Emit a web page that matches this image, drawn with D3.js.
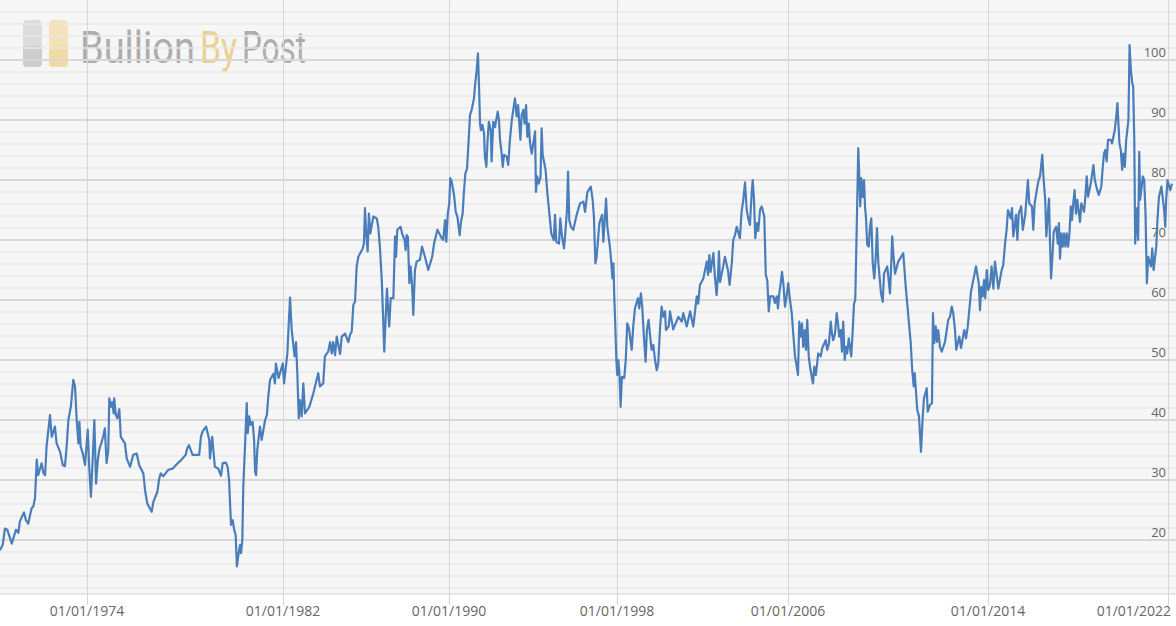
<!DOCTYPE html>
<html>
<head>
<meta charset="utf-8">
<script src="https://cdn.jsdelivr.net/npm/d3@7"></script>
<style>
  html, body { margin: 0; padding: 0; background: #fff; }
  svg { display: block; font-family: "Open Sans", sans-serif; }
</style>
</head>
<body>
<script>
// Chart size
const width = 1176;
const height = 626;
const plotBottom = 594;

// X axis labels: the dates are not evenly spaced on the axis
const tickLabels = ["01/01/1974", "01/01/1982", "01/01/1990", "01/01/1998", "01/01/2006", "01/01/2014", "01/01/2022"];
const tickYears = [1974, 1982, 1990, 1998, 2006, 2014, 2022];
const tickX = [87, 283, 449, 617, 788, 988, 1167.5];

// Y axis
const yTicks = [20, 30, 40, 50, 60, 70, 80, 90, 100];
const yMinor = d3.range(12, 110, 2).filter(v => v % 10 !== 0);

// Logo words
const logoWords = [
  {text: "Bullion", x: 80, w: 115, color: "#adadad"},
  {text: "By", x: 200, w: 37, color: "#ebd08f"},
  {text: "Post", x: 242, w: 64, color: "#adadad"}
];

// Gold / silver ratio: [decimal year, ratio]
const series = [
  [1970.45,18.3],[1970.56,19.2],[1970.65,21.9],[1970.75,21.7],[1970.93,19.4],[1971.10,21.7],[1971.20,21.2],[1971.26,23.1],
  [1971.43,24.6],[1971.51,23.3],[1971.60,22.7],[1971.74,25.3],[1971.81,25.6],[1971.88,27.0],[1971.95,33.4],[1972.01,30.8],
  [1972.15,32.8],[1972.22,31.2],[1972.29,30.8],[1972.35,35.6],[1972.49,40.8],[1972.56,37.2],[1972.69,38.9],[1972.76,36.1],
  [1972.90,34.7],[1973.01,32.5],[1973.10,32.3],[1973.17,35.6],[1973.24,40.0],[1973.34,42.2],[1973.44,46.7],[1973.51,45.6],
  [1973.58,40.0],[1973.65,36.1],[1973.69,39.7],[1973.74,35.6],[1973.83,34.4],[1973.92,32.5],[1974.03,38.4],[1974.09,32.2],
  [1974.16,27.2],[1974.23,33.3],[1974.30,40.0],[1974.37,29.4],[1974.44,33.3],[1974.50,35.0],[1974.66,37.2],[1974.73,38.6],
  [1974.80,32.8],[1974.87,35.0],[1974.91,43.6],[1974.98,42.2],[1975.03,43.0],[1975.09,41.1],[1975.11,43.6],[1975.18,40.8],
  [1975.24,40.3],[1975.32,41.8],[1975.38,37.2],[1975.55,36.1],[1975.62,33.6],[1975.76,32.2],[1975.89,34.2],[1976.03,34.4],
  [1976.13,32.5],[1976.30,31.1],[1976.37,28.3],[1976.46,26.1],[1976.64,24.7],[1976.71,26.4],[1976.87,28.0],[1976.95,30.3],
  [1977.01,31.1],[1977.11,30.6],[1977.32,31.7],[1977.50,31.9],[1977.73,32.9],[1977.86,33.4],[1978.03,34.2],[1978.09,35.3],
  [1978.16,35.8],[1978.31,34.2],[1978.58,34.2],[1978.65,37.2],[1978.72,38.1],[1978.86,38.9],[1978.99,36.7],[1979.02,33.6],
  [1979.11,37.2],[1979.22,32.2],[1979.36,31.9],[1979.47,30.7],[1979.54,32.8],[1979.67,32.9],[1979.74,32.2],[1979.80,30.0],
  [1979.84,26.1],[1979.88,22.5],[1979.95,23.3],[1980.00,21.9],[1980.07,20.8],[1980.12,15.6],[1980.19,17.8],[1980.25,19.2],
  [1980.29,17.8],[1980.34,20.0],[1980.38,28.9],[1980.45,35.6],[1980.52,42.8],[1980.56,37.8],[1980.62,40.6],[1980.68,39.2],
  [1980.76,39.7],[1980.82,36.7],[1980.86,31.4],[1980.90,30.8],[1980.95,35.0],[1981.06,38.9],[1981.13,36.7],[1981.27,40.0],
  [1981.34,40.8],[1981.40,43.9],[1981.47,46.7],[1981.61,47.7],[1981.67,46.1],[1981.71,49.4],[1981.82,47.0],[1981.99,49.4],
  [1982.05,46.1],[1982.21,51.1],[1982.27,55.6],[1982.34,60.4],[1982.42,55.0],[1982.56,50.6],[1982.63,53.0],[1982.69,47.8],
  [1982.76,40.3],[1982.82,43.3],[1982.90,40.6],[1982.98,46.1],[1983.06,41.1],[1983.27,42.2],[1983.46,44.4],[1983.70,47.8],
  [1983.78,45.6],[1983.94,46.1],[1984.02,50.6],[1984.18,51.4],[1984.27,53.0],[1984.35,51.1],[1984.42,53.0],[1984.51,50.8],
  [1984.59,53.9],[1984.75,51.0],[1984.83,53.9],[1984.99,54.4],[1985.15,53.0],[1985.23,54.2],[1985.31,54.7],[1985.39,59.2],
  [1985.47,59.7],[1985.55,65.6],[1985.63,67.2],[1985.84,68.6],[1985.90,69.4],[1985.95,75.3],[1986.01,71.1],[1986.08,68.1],
  [1986.14,74.4],[1986.21,71.1],[1986.35,73.9],[1986.52,73.6],[1986.59,72.2],[1986.67,68.9],[1986.76,63.3],[1986.83,56.7],
  [1986.88,51.4],[1986.95,57.2],[1987.01,61.9],[1987.07,58.3],[1987.12,55.6],[1987.19,60.3],[1987.32,60.3],[1987.40,70.6],
  [1987.45,67.2],[1987.51,71.7],[1987.67,72.2],[1987.74,71.1],[1987.86,70.0],[1987.91,68.3],[1987.96,70.8],[1988.02,70.5],
  [1988.09,62.8],[1988.15,65.6],[1988.22,62.5],[1988.28,57.5],[1988.36,65.0],[1988.44,66.4],[1988.60,66.7],[1988.70,68.9],
  [1988.84,67.2],[1989.00,65.0],[1989.19,67.2],[1989.28,69.4],[1989.44,71.7],[1989.65,70.3],[1989.72,70.0],[1989.81,73.3],
  [1989.87,69.7],[1989.94,74.4],[1990.01,76.0],[1990.06,80.3],[1990.13,79.7],[1990.25,77.2],[1990.32,74.7],[1990.40,73.9],
  [1990.51,70.8],[1990.57,73.0],[1990.65,74.4],[1990.71,78.0],[1990.78,81.1],[1990.86,81.9],[1990.92,85.6],[1991.00,90.8],
  [1991.08,91.7],[1991.19,93.6],[1991.25,96.1],[1991.32,98.3],[1991.38,101.1],[1991.43,95.6],[1991.48,89.4],[1991.52,88.3],
  [1991.59,89.2],[1991.67,87.8],[1991.71,83.9],[1991.78,82.2],[1991.84,86.7],[1991.90,89.7],[1991.99,88.3],[1992.03,83.1],
  [1992.11,89.7],[1992.19,88.8],[1992.32,91.4],[1992.38,90.0],[1992.43,86.7],[1992.49,85.0],[1992.56,82.2],[1992.62,84.2],
  [1992.75,83.9],[1992.82,82.5],[1992.90,86.7],[1992.99,90.0],[1993.14,93.6],[1993.22,90.6],[1993.29,92.5],[1993.40,86.7],
  [1993.46,90.8],[1993.54,91.7],[1993.60,89.4],[1993.67,92.5],[1993.73,87.2],[1993.80,89.4],[1993.86,86.1],[1993.94,84.4],
  [1994.10,88.1],[1994.14,78.0],[1994.20,80.6],[1994.27,79.4],[1994.36,80.5],[1994.41,88.6],[1994.46,84.2],[1994.60,81.7],
  [1994.68,78.0],[1994.81,73.3],[1994.87,71.1],[1994.99,70.0],[1995.05,74.2],[1995.11,69.7],[1995.24,69.4],[1995.30,73.6],
  [1995.38,70.6],[1995.48,68.6],[1995.56,72.2],[1995.62,75.0],[1995.67,81.4],[1995.73,73.3],[1995.81,72.2],[1995.92,71.7],
  [1996.08,74.2],[1996.24,76.1],[1996.40,76.4],[1996.48,74.7],[1996.59,78.0],[1996.75,78.9],[1996.84,76.7],[1996.90,73.9],
  [1996.97,66.1],[1997.03,67.2],[1997.16,72.8],[1997.29,74.2],[1997.35,69.7],[1997.48,76.9],[1997.54,72.2],[1997.67,68.6],
  [1997.73,66.1],[1997.78,63.6],[1997.83,66.1],[1997.87,60.6],[1997.92,55.6],[1997.97,50.0],[1998.01,47.5],[1998.06,50.0],
  [1998.11,48.0],[1998.17,42.2],[1998.23,47.2],[1998.34,47.0],[1998.41,50.0],[1998.48,56.1],[1998.56,55.3],[1998.69,51.7],
  [1998.76,55.6],[1998.84,58.6],[1998.98,60.3],[1999.04,58.6],[1999.12,61.1],[1999.18,58.9],[1999.26,53.9],[1999.34,49.7],
  [1999.40,55.0],[1999.48,56.7],[1999.54,54.4],[1999.62,51.7],[1999.70,52.5],[1999.78,50.0],[1999.86,48.3],[1999.93,49.4],
  [2000.01,55.0],[2000.09,58.9],[2000.17,57.2],[2000.25,58.1],[2000.29,55.0],[2000.42,55.6],[2000.48,58.1],[2000.63,55.1],
  [2000.87,57.2],[2001.03,56.4],[2001.10,57.8],[2001.26,55.6],[2001.42,58.1],[2001.57,55.6],[2001.73,60.6],[2001.80,59.4],
  [2001.88,62.5],[2002.04,63.6],[2002.20,66.4],[2002.26,64.2],[2002.32,67.5],[2002.38,64.7],[2002.51,67.8],[2002.58,63.9],
  [2002.66,60.8],[2002.73,64.4],[2002.77,68.1],[2002.82,63.0],[2002.90,64.4],[2002.97,65.6],[2003.05,67.2],[2003.19,65.0],
  [2003.27,62.5],[2003.37,66.1],[2003.44,70.0],[2003.52,70.8],[2003.60,72.2],[2003.75,70.3],[2003.83,74.7],[2003.91,76.7],
  [2003.99,79.6],[2004.07,75.0],[2004.14,73.6],[2004.22,72.5],[2004.30,77.8],[2004.35,80.0],[2004.41,76.7],[2004.47,70.3],
  [2004.54,72.8],[2004.61,71.5],[2004.69,75.0],[2004.77,75.6],[2004.89,73.9],[2004.96,64.2],[2005.03,63.3],[2005.10,58.1],
  [2005.16,60.6],[2005.31,60.6],[2005.39,59.5],[2005.47,60.6],[2005.53,58.6],[2005.59,61.1],[2005.66,62.8],[2005.72,64.7],
  [2005.78,62.8],[2005.86,58.9],[2005.93,60.5],[2006.01,62.8],[2006.08,60.0],[2006.15,57.8],[2006.21,54.4],[2006.28,50.6],
  [2006.35,48.9],[2006.40,47.5],[2006.45,56.4],[2006.51,53.9],[2006.56,56.1],[2006.61,52.2],[2006.67,55.0],[2006.72,51.7],
  [2006.77,56.7],[2006.83,50.6],[2006.88,48.9],[2006.95,47.2],[2007.00,46.1],[2007.05,48.9],[2007.11,47.5],[2007.16,49.2],
  [2007.21,51.1],[2007.31,50.6],[2007.37,52.0],[2007.51,53.3],[2007.57,51.7],[2007.64,52.8],[2007.71,56.4],[2007.76,54.4],
  [2007.81,53.3],[2007.88,54.4],[2007.95,57.8],[2008.00,56.1],[2008.05,53.9],[2008.11,55.0],[2008.16,51.4],[2008.21,56.4],
  [2008.27,50.0],[2008.32,52.2],[2008.37,51.1],[2008.43,53.6],[2008.53,50.6],[2008.59,55.0],[2008.64,59.4],[2008.69,60.0],
  [2008.72,66.1],[2008.75,72.2],[2008.81,85.3],[2008.85,80.6],[2008.89,75.6],[2008.93,80.3],[2008.99,77.2],[2009.04,80.0],
  [2009.08,75.6],[2009.12,73.6],[2009.17,69.2],[2009.23,68.9],[2009.28,72.2],[2009.33,73.6],[2009.39,66.1],[2009.45,63.6],
  [2009.51,67.2],[2009.56,72.0],[2009.61,66.4],[2009.72,61.1],[2009.79,59.7],[2009.84,64.4],[2009.97,65.6],[2010.08,61.1],
  [2010.13,66.1],[2010.17,70.6],[2010.21,67.8],[2010.28,64.4],[2010.41,66.4],[2010.61,67.8],[2010.65,65.6],[2010.71,62.2],
  [2010.77,59.4],[2010.84,56.1],[2010.91,52.8],[2010.97,48.3],[2011.03,45.6],[2011.07,47.8],[2011.17,41.7],[2011.24,40.6],
  [2011.32,34.7],[2011.39,40.6],[2011.44,43.6],[2011.55,45.3],[2011.59,41.4],[2011.68,42.5],[2011.76,42.8],[2011.80,57.8],
  [2011.85,52.8],[2011.91,55.6],[2011.96,53.0],[2012.01,55.0],[2012.08,52.2],[2012.15,51.4],[2012.28,53.0],[2012.41,56.7],
  [2012.48,57.2],[2012.55,58.9],[2012.61,57.8],[2012.68,55.0],[2012.73,51.7],[2012.85,53.9],[2012.92,52.0],[2013.05,55.0],
  [2013.12,53.6],[2013.19,55.6],[2013.32,61.4],[2013.52,65.6],[2013.63,62.8],[2013.68,58.3],[2013.73,62.2],[2013.79,60.6],
  [2013.84,63.3],[2013.89,60.3],[2013.95,65.0],[2014.01,61.7],[2014.09,62.5],[2014.16,65.6],[2014.24,61.9],[2014.31,66.4],
  [2014.46,61.9],[2014.61,65.0],[2014.68,65.8],[2014.76,69.4],[2014.83,71.7],[2014.89,75.0],[2015.01,73.6],[2015.07,75.3],
  [2015.13,70.6],[2015.25,74.2],[2015.31,70.0],[2015.37,74.4],[2015.48,75.6],[2015.55,71.7],[2015.66,74.2],[2015.78,80.0],
  [2015.84,76.1],[2015.96,75.6],[2016.02,71.7],[2016.08,76.1],[2016.20,78.9],[2016.26,80.0],[2016.32,80.6],[2016.42,84.2],
  [2016.47,80.6],[2016.55,76.7],[2016.60,70.6],[2016.66,73.9],[2016.72,76.9],[2016.76,70.0],[2016.81,63.6],[2016.87,67.2],
  [2016.93,71.4],[2017.04,72.2],[2017.11,69.4],[2017.16,72.8],[2017.21,66.9],[2017.27,71.1],[2017.33,68.9],[2017.39,71.1],
  [2017.45,68.9],[2017.51,71.1],[2017.57,68.9],[2017.63,71.0],[2017.69,75.6],[2017.74,73.3],[2017.80,76.1],[2017.86,78.3],
  [2017.92,74.4],[2017.98,76.7],[2018.10,73.0],[2018.16,76.1],[2018.28,74.7],[2018.34,77.2],[2018.40,80.6],[2018.46,77.2],
  [2018.58,79.4],[2018.70,82.5],[2018.76,80.0],[2018.87,78.3],[2018.94,77.5],[2019.05,78.9],[2019.11,81.9],[2019.17,84.4],
  [2019.23,85.0],[2019.29,83.1],[2019.35,86.7],[2019.47,86.7],[2019.53,86.1],[2019.65,88.3],[2019.71,90.3],[2019.77,92.8],
  [2019.82,88.9],[2019.86,86.1],[2019.92,85.0],[2019.98,81.7],[2020.04,84.4],[2020.10,82.2],[2020.16,86.7],[2020.26,90.0],
  [2020.31,102.5],[2020.37,98.3],[2020.43,96.1],[2020.47,95.6],[2020.52,86.7],[2020.56,69.4],[2020.61,73.3],[2020.65,75.3],
  [2020.69,70.0],[2020.74,84.7],[2020.78,76.7],[2020.90,80.6],[2020.96,80.0],[2021.02,74.4],[2021.08,62.8],[2021.14,67.2],
  [2021.26,65.6],[2021.32,68.6],[2021.38,65.0],[2021.50,68.9],[2021.55,73.3],[2021.62,77.2],[2021.73,78.9],[2021.85,75.0],
  [2021.90,72.2],[2021.94,76.7],[2022.00,80.0],[2022.12,78.3],[2022.20,79.4]
];

// decimal year -> Date
function toDate(y) {
  const yr = Math.floor(y);
  const start = new Date(yr, 0, 1), end = new Date(yr + 1, 0, 1);
  return new Date(+start + (y - yr) * (end - start));
}

const data = series.map(d => ({date: toDate(d[0]), value: d[1]}));

// Scales
const x = d3.scaleTime()
    .domain(tickYears.map(toDate))
    .range(tickX);

const y = d3.scaleLinear()
    .domain([11, 110])
    .range([plotBottom, 0]);

const svg = d3.select("body").append("svg")
    .attr("width", width)
    .attr("height", height);

// Plot background
svg.append("rect")
    .attr("width", width)
    .attr("height", plotBottom)
    .attr("fill", "#f6f6f6");

// Logo watermark
const logo = svg.append("g");
logo.append("rect")
    .attr("x", 23).attr("y", 20).attr("width", 19).attr("height", 47).attr("rx", 4)
    .attr("fill", "#dcdcdc");
logo.append("rect")
    .attr("x", 23).attr("y", 46).attr("width", 19).attr("height", 21).attr("rx", 4)
    .attr("fill", "#cdcdcd");
logo.append("rect")
    .attr("x", 49).attr("y", 20).attr("width", 19).attr("height", 47).attr("rx", 4)
    .attr("fill", "#f4e3ba");
logo.append("rect")
    .attr("x", 49).attr("y", 46).attr("width", 19).attr("height", 21).attr("rx", 4)
    .attr("fill", "#f0daa6");

// words are squeezed horizontally to look condensed
logo.append("g")
    .style("font-family", "Roboto, 'DejaVu Sans Condensed', sans-serif")
    .style("font-size", "45px")
    .style("font-weight", 400)
  .selectAll("text")
  .data(logoWords)
  .join("text")
    .attr("fill", d => d.color)
    .text(d => d.text)
    .attr("transform", function(d) {
      const len = this.getComputedTextLength();
      return `translate(${d.x},63) scale(${d.w / len},1)`;
    });

// Horizontal grid
svg.append("g")
  .selectAll("line")
  .data(yMinor)
  .join("line")
    .attr("x1", 0).attr("x2", width)
    .attr("y1", d => y(d)).attr("y2", d => y(d))
    .attr("stroke", "#e8e8e8")
    .attr("stroke-width", 1.5);

svg.append("g")
  .selectAll("line")
  .data(yTicks)
  .join("line")
    .attr("x1", 0).attr("x2", width)
    .attr("y1", d => y(d)).attr("y2", d => y(d))
    .attr("stroke", "#d8d8d8")
    .attr("stroke-width", 2);

// Bottom edge of plot
svg.append("line")
    .attr("x1", 0).attr("x2", width)
    .attr("y1", plotBottom).attr("y2", plotBottom)
    .attr("stroke", "#e6e6e6")
    .attr("stroke-width", 2);

// Vertical grid at date ticks
svg.append("g")
  .selectAll("line")
  .data(tickYears)
  .join("line")
    .attr("x1", d => Math.round(x(toDate(d))) + 0.5)
    .attr("x2", d => Math.round(x(toDate(d))) + 0.5)
    .attr("y1", 0).attr("y2", 605)
    .attr("stroke", "#d6d6d6")
    .attr("stroke-width", 1);

// Y labels (inside plot, right side)
svg.append("g")
    .attr("text-anchor", "end")
    .style("font-size", "13px")
    .attr("fill", "#666")
  .selectAll("text")
  .data(yTicks)
  .join("text")
    .attr("x", 1166)
    .attr("y", d => y(d) - 3)
    .text(d => d);

// X labels (the last one is pulled inside the right edge)
svg.append("g")
    .style("font-size", "14px")
    .attr("fill", "#666")
  .selectAll("text")
  .data(tickYears)
  .join("text")
    .attr("text-anchor", (d, i) => i === tickYears.length - 1 ? "end" : "middle")
    .attr("x", (d, i) => i === tickYears.length - 1 ? width - 5 : x(toDate(d)))
    .attr("y", 616)
    .text((d, i) => tickLabels[i]);

// Ratio line
const line = d3.line()
    .x(d => x(d.date))
    .y(d => y(d.value));

svg.append("path")
    .datum(data)
    .attr("fill", "none")
    .attr("stroke", "#4a7ebb")
    .attr("stroke-width", 2.2)
    .attr("stroke-linejoin", "round")
    .attr("d", line);
</script>
</body>
</html>
